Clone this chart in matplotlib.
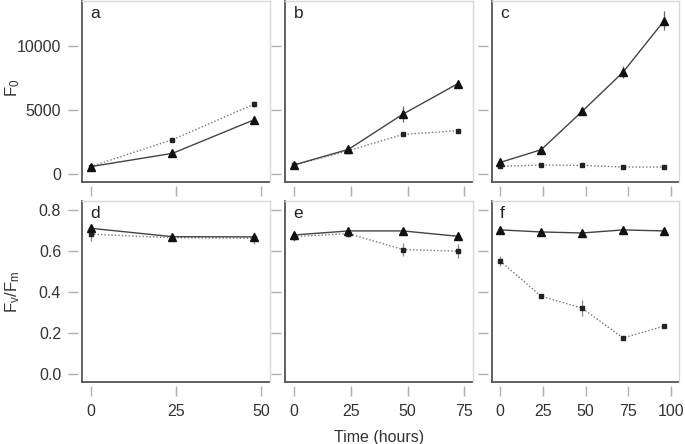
import numpy as np
import matplotlib
matplotlib.use('Agg')
import matplotlib.pyplot as plt

plt.rcParams['font.family'] = ['Liberation Sans', 'DejaVu Sans']
plt.rcParams['mathtext.fontset'] = 'custom'
plt.rcParams['mathtext.rm'] = 'Liberation Sans'
plt.rcParams['mathtext.it'] = 'Liberation Sans'

# time points per column (hours)
times_a = [0, 24, 48]
times_b = [0, 24, 48, 72]
times_c = [0, 24, 48, 72, 96]

# F0, triangle (solid) and square (dotted) series
f0_tri_a = [550, 1590, 4220]
f0_tri_a_err = [80, 120, 300]
f0_sq_a = [550, 2660, 5440]
f0_sq_a_err = [60, 100, 250]

f0_tri_b = [680, 1900, 4660, 7030]
f0_tri_b_err = [100, 200, 650, 150]
f0_sq_b = [660, 1800, 3070, 3360]
f0_sq_b_err = [60, 80, 100, 80]

f0_tri_c = [880, 1875, 4870, 7940, 11950]
f0_tri_c_err = [250, 100, 150, 450, 750]
f0_sq_c = [570, 680, 650, 520, 520]
f0_sq_c_err = [60, 50, 60, 40, 40]

# Fv/Fm
fv_tri_d = [0.711, 0.670, 0.669]
fv_tri_d_err = [0.012, 0.012, 0.012]
fv_sq_d = [0.682, 0.665, 0.662]
fv_sq_d_err = [0.035, 0.015, 0.03]

fv_tri_e = [0.678, 0.698, 0.698, 0.672]
fv_tri_e_err = [0.012, 0.012, 0.008, 0.012]
fv_sq_e = [0.670, 0.685, 0.607, 0.599]
fv_sq_e_err = [0.02, 0.015, 0.03, 0.035]

fv_tri_f = [0.703, 0.693, 0.688, 0.703, 0.698]
fv_tri_f_err = [0.008, 0.01, 0.015, 0.01, 0.01]
fv_sq_f = [0.551, 0.379, 0.321, 0.175, 0.233]
fv_sq_f_err = [0.025, 0.008, 0.04, 0.006, 0.006]

panels = [
    ('a', times_a, f0_tri_a, f0_tri_a_err, f0_sq_a, f0_sq_a_err, 0, 0, [0, 25, 50]),
    ('b', times_b, f0_tri_b, f0_tri_b_err, f0_sq_b, f0_sq_b_err, 0, 1, [0, 25, 50, 75]),
    ('c', times_c, f0_tri_c, f0_tri_c_err, f0_sq_c, f0_sq_c_err, 0, 2, [0, 25, 50, 75, 100]),
    ('d', times_a, fv_tri_d, fv_tri_d_err, fv_sq_d, fv_sq_d_err, 1, 0, [0, 25, 50]),
    ('e', times_b, fv_tri_e, fv_tri_e_err, fv_sq_e, fv_sq_e_err, 1, 1, [0, 25, 50, 75]),
    ('f', times_c, fv_tri_f, fv_tri_f_err, fv_sq_f, fv_sq_f_err, 1, 2, [0, 25, 50, 75, 100]),
]

fig = plt.figure(figsize=(6.85, 4.44), dpi=100)

lefts = [0.1197, 0.4165, 0.7178]
width = 0.2740
bottoms = [0.5901, 0.1396]
height = 0.4076

dark = '#555555'
light = '#d8d8d8'
tickc = '#b0b0b0'

for letter, t, tri, tri_err, sq, sq_err, row, col, xt in panels:
    ax = fig.add_axes([lefts[col], bottoms[row], width, height])
    xmax = xt[-1]
    ax.set_xlim(-0.05 * xmax, 1.05 * xmax)
    if row == 0:
        ax.set_ylim(-650, 13500)
        ax.set_yticks([0, 5000, 10000])
    else:
        ax.set_ylim(-0.04, 0.844)
        ax.set_yticks([0.0, 0.2, 0.4, 0.6, 0.8])
        ax.set_yticklabels(['0.0', '0.2', '0.4', '0.6', '0.8'])
    ax.set_xticks(xt)

    # error bars
    ax.errorbar(t, sq, yerr=sq_err, fmt='none', ecolor='#888888', elinewidth=0.9, capsize=0)
    ax.errorbar(t, tri, yerr=tri_err, fmt='none', ecolor='#666666', elinewidth=0.9, capsize=0)
    # lines + markers
    ax.plot(t, sq, linestyle=(0, (1, 1.5)), color='#777777', lw=1.0)
    ax.plot(t, sq, linestyle='none', marker='s', ms=2.6, color='#222222')
    ax.plot(t, tri, linestyle='-', color='#444444', lw=1.0)
    ax.plot(t, tri, linestyle='none', marker='^', ms=5.5, color='#111111')

    # box: grey top/right, dark left/bottom
    for s in ['top', 'right']:
        ax.spines[s].set_color(light)
        ax.spines[s].set_linewidth(1.0)
    for s in ['left', 'bottom']:
        ax.spines[s].set_position(('outward', 3))
        ax.spines[s].set_color('none')
    ax.plot([0, 0], [0, 1], transform=ax.transAxes, color=dark, lw=1.3, clip_on=False)
    ax.plot([0, 1], [0, 0], transform=ax.transAxes, color=dark, lw=1.3, clip_on=False)

    ax.tick_params(direction='out', length=7, width=1.0, color=tickc,
                   labelcolor='#333333', labelsize=11.5, pad=5)
    ax.tick_params(axis='x', pad=6)
    if row == 0:
        ax.set_xticklabels([])
    if col > 0:
        ax.set_yticklabels([])

    ax.text(0.045, 0.975, letter, transform=ax.transAxes, ha='left', va='top',
            fontsize=12.5, color='#222222')

    if row == 1 and col == 1:
        ax.set_xlabel('Time (hours)', fontsize=11.5, color='#333333', labelpad=8)

fig.text(13 / 685, 1 - 88 / 444, r'$\mathrm{F_0}$', rotation=90, ha='center', va='center',
         fontsize=12, color='#333333')
fig.text(13 / 685, 1 - 292 / 444, r'$\mathrm{F_v/F_m}$', rotation=90, ha='center', va='center',
         fontsize=12, color='#333333')

plt.savefig('out.png', dpi=100)
